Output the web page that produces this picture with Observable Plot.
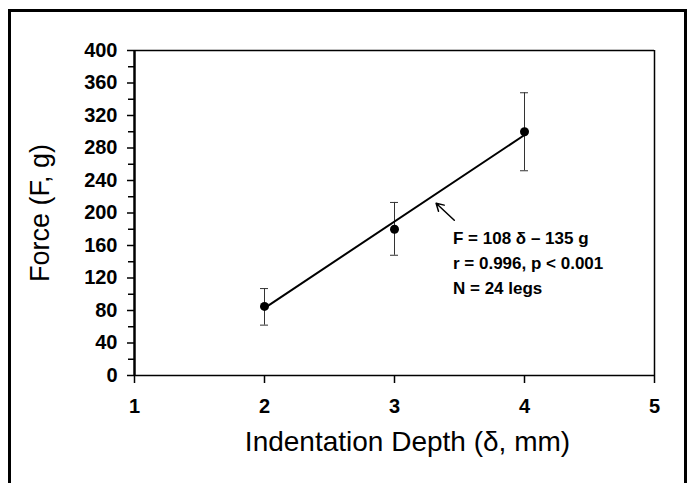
<!DOCTYPE html>
<html>
<head>
<meta charset="utf-8">
<script src="https://cdn.jsdelivr.net/npm/d3@7"></script>
<script src="https://cdn.jsdelivr.net/npm/@observablehq/plot@0.6"></script>
<style>
  html, body { margin: 0; padding: 0; background: #fff; }
  #wrap { position: relative; width: 691px; height: 483px; overflow: hidden; }
  #border { position: absolute; left: 8px; top: 9px; width: 673px; height: 490px; border: 3px solid #000; pointer-events: none; }
  svg text { font-family: "Liberation Sans", Arial, sans-serif; }
</style>
</head>
<body>
<div id="wrap"><div id="border"></div></div>
<script>
// ---- data ----
const xTicks = [1, 2, 3, 4, 5];
const yTicks = [0, 40, 80, 120, 160, 200, 240, 280, 320, 360, 400];
const yMinorTicks = [20, 60, 100, 140, 180, 220, 260, 300, 340, 380];
const depth = [2, 3, 4];
const force = [85, 180, 300];
const errLow = [62, 148, 252];
const errHigh = [107, 213, 348];
const fitDepth = [2, 4];
const fitForce = [83, 296];
const noteLines = ["F = 108 \u03b4 \u2013 135 g", "r = 0.996, p < 0.001", "N = 24 legs"];
const noteForce = [169, 138, 107];
const noteDepth = 3.45;
const arrowFrom = {x: 3.46, y: 191};
const arrowTo = {x: 3.32, y: 212};
const xLabel = "Indentation Depth (\u03b4, mm)";
const yLabel = "Force (F, g)";

const points = depth.map((d, i) => ({x: d, y: force[i], lo: errLow[i], hi: errHigh[i]}));
const fit = fitDepth.map((d, i) => ({x: d, y: fitForce[i]}));
const notes = noteLines.map((t, i) => ({text: t, x: noteDepth, y: noteForce[i]}));

const chart = Plot.plot({
  width: 691,
  height: 483,
  marginLeft: 134,
  marginRight: 37,
  marginTop: 50,
  marginBottom: 108,
  style: {background: "transparent", color: "#000"},
  x: {domain: [1, 5]},
  y: {domain: [0, 400]},
  marks: [
    Plot.axisY({ticks: yMinorTicks, tickSize: 6, tickFormat: () => "", strokeWidth: 1.5, label: null}),
    Plot.axisY({ticks: yTicks, tickSize: 7, tickPadding: 10, strokeWidth: 1.5, fontSize: 20, fontWeight: "bold", label: null}),
    Plot.axisX({ticks: xTicks, tickFormat: d3.format("d"), tickSize: 8, tickPadding: 15, strokeWidth: 1.5, fontSize: 20, fontWeight: "bold", label: null}),
    Plot.ruleY([0], {strokeWidth: 1.5}),
    Plot.ruleY([400], {strokeWidth: 1.5}),
    Plot.ruleX([5], {strokeWidth: 1.5}),
    Plot.ruleX([1], {strokeWidth: 2.5}),
    // error bars
    Plot.ruleX(points, {x: "x", y1: "lo", y2: "hi", stroke: "#333", strokeWidth: 1}),
    Plot.ruleY(points, {y: "lo", x1: "x", x2: "x", insetLeft: -4, insetRight: -4, stroke: "#333", strokeWidth: 1}),
    Plot.ruleY(points, {y: "hi", x1: "x", x2: "x", insetLeft: -4, insetRight: -4, stroke: "#333", strokeWidth: 1}),
    // regression line
    Plot.line(fit, {x: "x", y: "y", stroke: "#000", strokeWidth: 2}),
    Plot.dot(points, {x: "x", y: "y", r: 4.5, fill: "#000", stroke: "none"}),
    // arrow
    Plot.arrow([{x1: arrowFrom.x, y1: arrowFrom.y, x2: arrowTo.x, y2: arrowTo.y}], {x1: "x1", y1: "y1", x2: "x2", y2: "y2", headLength: 10, strokeWidth: 1.5, stroke: "#000", bend: 0}),
    // annotation
    Plot.text(notes, {x: "x", y: "y", text: "text", textAnchor: "start", fontSize: 17, fontWeight: "bold", fill: "#000"}),
    // axis labels
    Plot.text([xLabel], {frameAnchor: "bottom", textAnchor: "middle", lineAnchor: "middle", dx: 13, dy: 67, fontSize: 28, fill: "#000"}),
    Plot.text([yLabel], {frameAnchor: "left", textAnchor: "middle", lineAnchor: "middle", dx: -94, rotate: -90, fontSize: 27, fill: "#000"})
  ]
});
document.getElementById("wrap").insertBefore(chart, document.getElementById("border"));
</script>
</body>
</html>
